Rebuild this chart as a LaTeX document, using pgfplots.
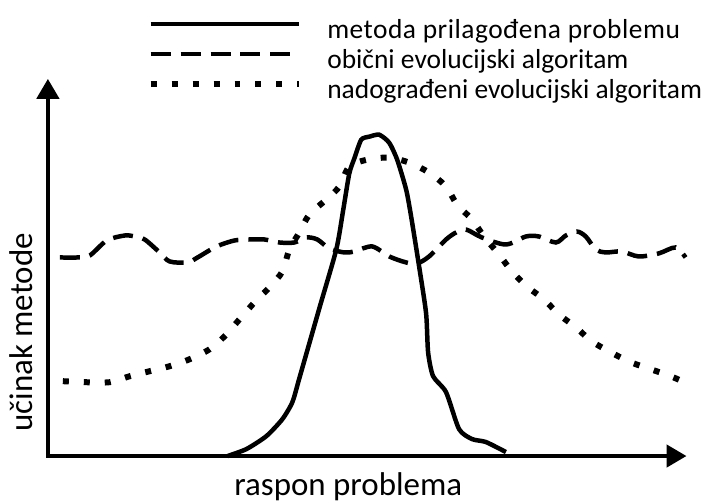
\documentclass[border=0pt]{standalone}
\usepackage{pgfplots}
\pgfplotsset{compat=1.18}
\usepackage{fontspec}
\setmainfont{Carlito}
\usetikzlibrary{arrows.meta}
\begin{document}
\begin{tikzpicture}
\begin{axis}[
  x=1bp, y=1bp,
  xmin=48, xmax=688, ymin=47, ymax=425,
  axis lines=left,
  axis line style={line width=4.5bp, line cap=rect, -{Triangle[width=22bp,length=20bp]}},
  xtick=\empty, ytick=\empty,
  clip=false,
  xlabel={raspon problema},
  ylabel={učinak metode},
  xlabel style={at={(axis cs:349,7)}, anchor=base, font=\fontsize{33bp}{36bp}\selectfont, inner sep=0pt},
  ylabel style={at={(axis cs:33,171)}, anchor=base, font=\fontsize{33bp}{36bp}\selectfont, inner sep=0pt},
  legend image code/.code={\draw[#1] (0bp,10bp) -- (149bp,10bp);},
  legend cell align=left,
  legend style={draw=none, fill=none, inner sep=0pt, outer sep=0pt,
    font=\fontsize{27.5bp}{30bp}\selectfont,
    row sep=0pt,
    nodes={inner sep=0pt, text height=20bp, text depth=10bp},
    /tikz/every odd column/.style={column sep=25bp},
    at={(axis cs:148,485)}, anchor=north west},
]
\addplot[black, line width=4.5bp, smooth, tension=0.4] coordinates {
(228,47) (247,54) (267,67) (283,84) (293,101) (300,125) (320,195) (337,254) (344,294) (350,330) (355,345) (362,364) (370,367) (380,369) (390,361) (398,344) (407,314) (412,287) (420,237) (427,190) (429,151) (434,127) (447,111) (460,74) (473,64) (487,61) (507,51)
};
\addlegendentry{\addfontfeature{LetterSpace=1.8}metoda prilagođena problemu}
\addplot[black, line width=4.5bp, dash pattern=on 20bp off 10bp, smooth] coordinates {
(60,246) (78,246) (90,248) (107,263) (125,268) (135,267) (145,264) (160,251) (170,242) (188,241) (198,246) (217,257) (235,263) (250,264) (265,264) (280,261) (295,261) (307,266) (318,264) (330,255) (345,251) (355,252) (373,257) (390,247) (407,241) (418,240) (430,247) (447,264) (457,271) (467,274) (483,266) (507,259) (527,267) (540,267) (557,261) (567,268) (578,272) (587,267) (597,254) (607,251) (623,252) (640,247) (660,250) (677,256) (687,246)
};
\addlegendentry{obični evolucijski algoritam}
\addplot[black, line width=6bp, dash pattern=on 6bp off 15bp, smooth] coordinates {
(63,122) (85,121) (110,121) (130,127) (150,132) (170,137) (190,144) (210,154) (225,167) (240,184) (255,201) (270,216) (283,232) (290,254) (300,271) (310,289) (327,304) (340,317) (350,337) (368,344) (390,346) (410,341) (430,331) (447,317) (458,299) (473,284) (485,267) (500,249) (513,232) (528,217) (545,204) (560,189) (577,176) (593,162) (612,151) (632,141) (652,134) (672,127) (688,120)
};
\addlegendentry{nadograđeni evolucijski algoritam}
\path (axis cs:0,0) rectangle (axis cs:702,504);
\end{axis}
\end{tikzpicture}
\end{document}
